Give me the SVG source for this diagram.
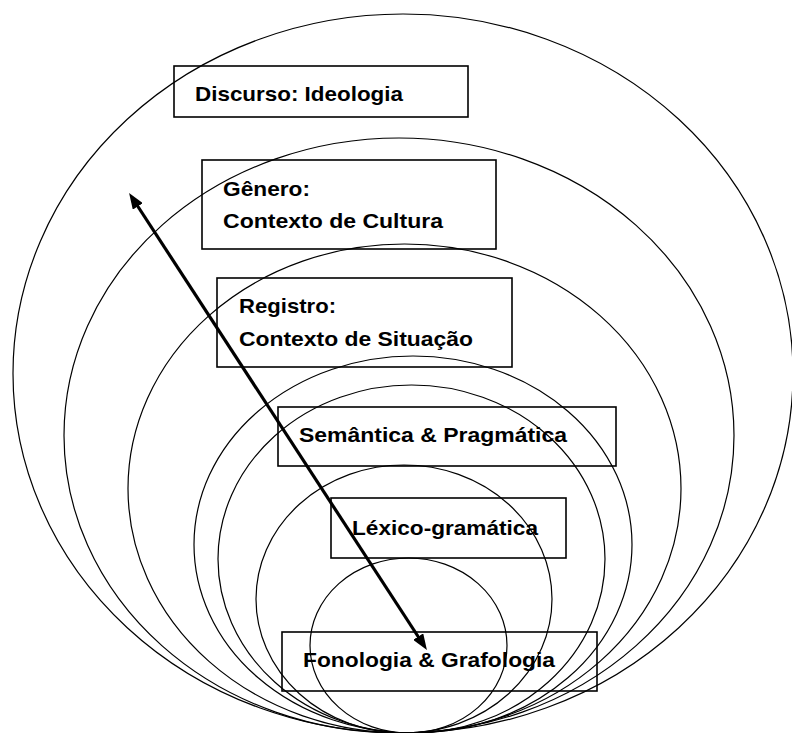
<svg xmlns="http://www.w3.org/2000/svg" width="792" height="733" viewBox="0 0 792 733">
<style>
.ring{fill:none;stroke:#000;stroke-width:1.2}
.box{fill:none;stroke:#000;stroke-width:1.6}
.lbl{font-family:"Liberation Sans",Arial,sans-serif;font-weight:bold;font-size:21px;fill:#000}
.arrow{stroke:#000;stroke-width:3.2;fill:none}
</style>
<defs>
<marker id="head" markerUnits="userSpaceOnUse" markerWidth="16" markerHeight="12" viewBox="0 0 16 12" refX="7" refY="6" orient="auto-start-reverse">
<path d="M0,0 L16,6 L0,12 z" fill="#000"/>
</marker>
</defs>
<rect width="792" height="733" fill="#fff"/>
<g id="rings">
<ellipse class="ring" cx="403" cy="373.5" rx="390" ry="359.5"/>
<ellipse class="ring" cx="399" cy="435.5" rx="335" ry="297.5"/>
<ellipse class="ring" cx="404.5" cy="488.5" rx="276.5" ry="244.5"/>
<ellipse class="ring" cx="413" cy="544.5" rx="219" ry="188.5"/>
<ellipse class="ring" cx="411.5" cy="559" rx="193.5" ry="174"/>
<ellipse class="ring" cx="404" cy="599" rx="148" ry="134"/>
<ellipse class="ring" cx="408.5" cy="645.5" rx="98.5" ry="87.5"/>
</g>
<g id="discurso">
<rect class="box" x="174" y="66" width="294" height="51"/>
<text class="lbl" x="195" y="101" textLength="208" lengthAdjust="spacingAndGlyphs">Discurso: Ideologia</text>
</g>
<g id="genero">
<rect class="box" x="202" y="160" width="294" height="89"/>
<text class="lbl" x="223" y="196" textLength="87" lengthAdjust="spacingAndGlyphs">Gênero:</text>
<text class="lbl" x="223" y="228" textLength="220" lengthAdjust="spacingAndGlyphs">Contexto de Cultura</text>
</g>
<g id="registro">
<rect class="box" x="217" y="278" width="295" height="89"/>
<text class="lbl" x="239" y="313" textLength="97" lengthAdjust="spacingAndGlyphs">Registro:</text>
<text class="lbl" x="239" y="346" textLength="234" lengthAdjust="spacingAndGlyphs">Contexto de Situação</text>
</g>
<g id="semantica">
<rect class="box" x="278" y="407" width="338" height="59"/>
<text class="lbl" x="299" y="442" textLength="268" lengthAdjust="spacingAndGlyphs">Semântica &amp; Pragmática</text>
</g>
<g id="lexico">
<rect class="box" x="331" y="498" width="235" height="60"/>
<text class="lbl" x="352" y="535" textLength="186" lengthAdjust="spacingAndGlyphs">Léxico-gramática</text>
</g>
<g id="fonologia">
<rect class="box" x="282" y="632" width="315" height="59"/>
<text class="lbl" x="303" y="667" textLength="252" lengthAdjust="spacingAndGlyphs">Fonologia &amp; Grafologia</text>
</g>
<g id="connectors">
<line class="arrow" x1="134" y1="200.5" x2="422" y2="642.5" marker-start="url(#head)" marker-end="url(#head)"/>
</g>
</svg>
